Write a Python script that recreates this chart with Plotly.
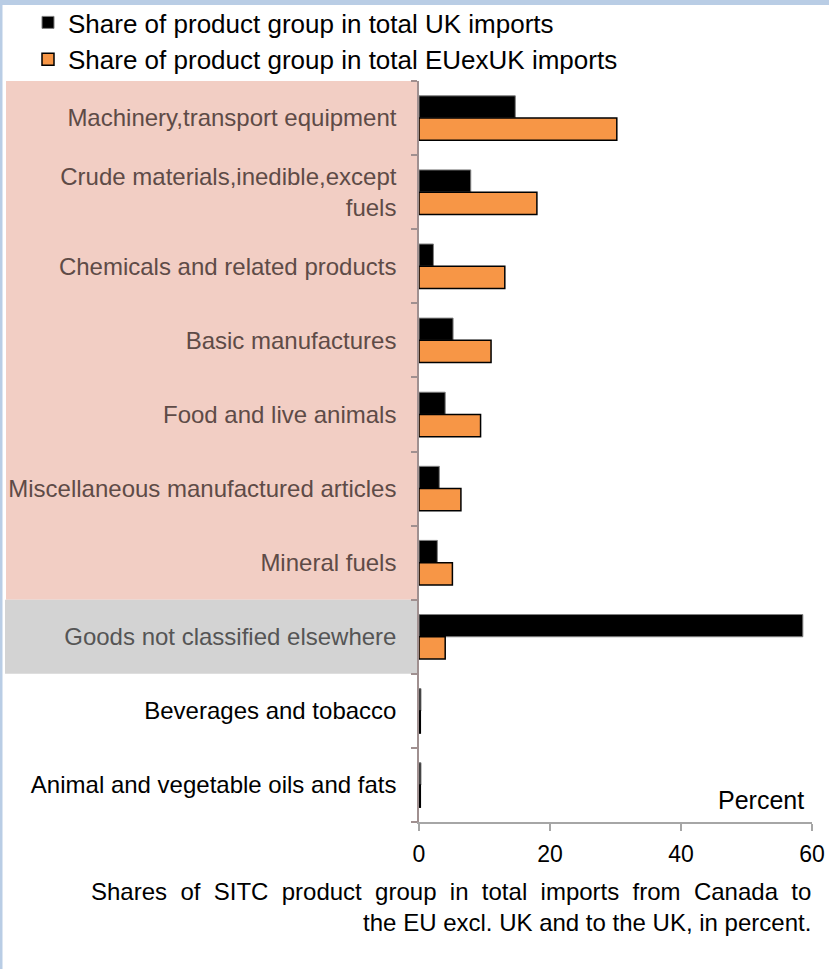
import plotly.graph_objects as go

categories = [
    "Machinery,transport equipment",
    "Crude materials,inedible,except<br>fuels",
    "Chemicals and related products",
    "Basic manufactures",
    "Food and live animals",
    "Miscellaneous manufactured articles",
    "Mineral fuels",
    "Goods not classified elsewhere",
    "Beverages and tobacco",
    "Animal and vegetable oils and fats",
]
uk_share = [14.7, 7.9, 2.2, 5.2, 4.0, 3.1, 2.8, 58.6, 0.3, 0.3]
euexuk_share = [30.2, 18.0, 13.1, 11.0, 9.4, 6.4, 5.1, 4.0, 0.2, 0.2]
label_colors = ["#5e4b47"] * 7 + ["#555555"] + ["#000000"] * 2
x_ticks = [0, 20, 40, 60]
series_names = ["Share of product group in total UK imports",
                "Share of product group in total EUexUK imports"]
caption_lines = ["Shares of SITC product group in total imports from Canada to",
                 "the EU excl. UK and to the UK, in percent."]

W, H = 829, 969
L, R, T, B = 419, 17, 81, 147
PW, PH = W - L - R, H - T - B

def px_x(p):
    return (p - L) / PW

def px_y(p):
    return (H - B - p) / PH

FONT = "Liberation Sans, Arial, sans-serif"

fig = go.Figure()
fig.add_trace(go.Bar(
    y=categories, x=uk_share, orientation="h", name=series_names[0],
    marker=dict(color="#000000", line=dict(color="#7f7f7f", width=1)),
    legendgroup="a",
))
fig.add_trace(go.Bar(
    y=categories, x=euexuk_share, orientation="h", name=series_names[1],
    marker=dict(color="#F79646", line=dict(color="#000000", width=1.5)),
    legendgroup="b",
))

ticktext = [f"<span style='color:{c}'>{t}</span>" for t, c in zip(categories, label_colors)]

shapes = [
    # frame
    dict(type="rect", xref="paper", yref="paper", x0=px_x(0), x1=px_x(W), y0=px_y(5), y1=px_y(0),
         fillcolor="#B9CDE5", line=dict(width=0), layer="below"),
    dict(type="rect", xref="paper", yref="paper", x0=px_x(0), x1=px_x(2.5), y0=px_y(H), y1=px_y(0),
         fillcolor="#B9CDE5", line=dict(width=0), layer="below"),
    # highlight panels behind labels
    dict(type="rect", xref="paper", yref="y", x0=px_x(6), x1=px_x(417), y0=-0.5, y1=6.5,
         fillcolor="#F2CEC4", line=dict(width=0), layer="below"),
    dict(type="rect", xref="paper", yref="y", x0=px_x(5), x1=px_x(417), y0=6.5, y1=7.5,
         fillcolor="#D3D3D3", line=dict(width=0), layer="below"),
]

NB = "\u00a0"
line1 = (NB + NB).join(caption_lines[0].split(" "))
caption = line1 + "<br>" + caption_lines[1]

fig.update_layout(
    width=W, height=H,
    margin=dict(l=L, r=R, t=T, b=B, autoexpand=False),
    paper_bgcolor="white", plot_bgcolor="rgba(0,0,0,0)",
    font=dict(family=FONT, color="#000000", size=24),
    barmode="group", bargap=0.4, bargroupgap=0,
    showlegend=True,
    legend=dict(x=px_x(28), y=px_y(-1), xanchor="left", yanchor="top",
                font=dict(size=26, family=FONT), tracegroupgap=13,
                bgcolor="rgba(0,0,0,0)", traceorder="normal"),
    shapes=shapes,
    annotations=[
        dict(text="Percent", xref="paper", yref="paper", x=px_x(806), y=px_y(800),
             xanchor="right", yanchor="middle", showarrow=False, font=dict(size=25)),
        dict(text=caption,
             xref="paper", yref="paper", x=px_x(813), y=px_y(907),
             xanchor="right", yanchor="middle", align="right", showarrow=False,
             font=dict(size=24)),
    ],
)

fig.update_xaxes(
    range=[0, 60], tickvals=x_ticks, showgrid=False, zeroline=False,
    showline=True, linecolor="#A6A6A6", linewidth=1.5,
    ticks="outside", ticklen=7, tickcolor="#A6A6A6", tickwidth=1.5,
    tickfont=dict(size=23), ticklabelstandoff=4,
)
fig.update_yaxes(
    categoryorder="array", categoryarray=categories, autorange="reversed",
    tickmode="array", tickvals=categories, ticktext=ticktext,
    tickson="boundaries",
    showgrid=False, zeroline=False,
    showline=True, linecolor="#A09090", linewidth=1.5,
    ticks="outside", ticklen=6, tickcolor="#A09090", tickwidth=1.5,
    tickfont=dict(size=24), ticklabelstandoff=16,
)

fig.write_html(
    "out.html",
    config={"displayModeBar": False},
    post_script="document.body.style.margin='0px';document.body.style.overflow='hidden';",
)
